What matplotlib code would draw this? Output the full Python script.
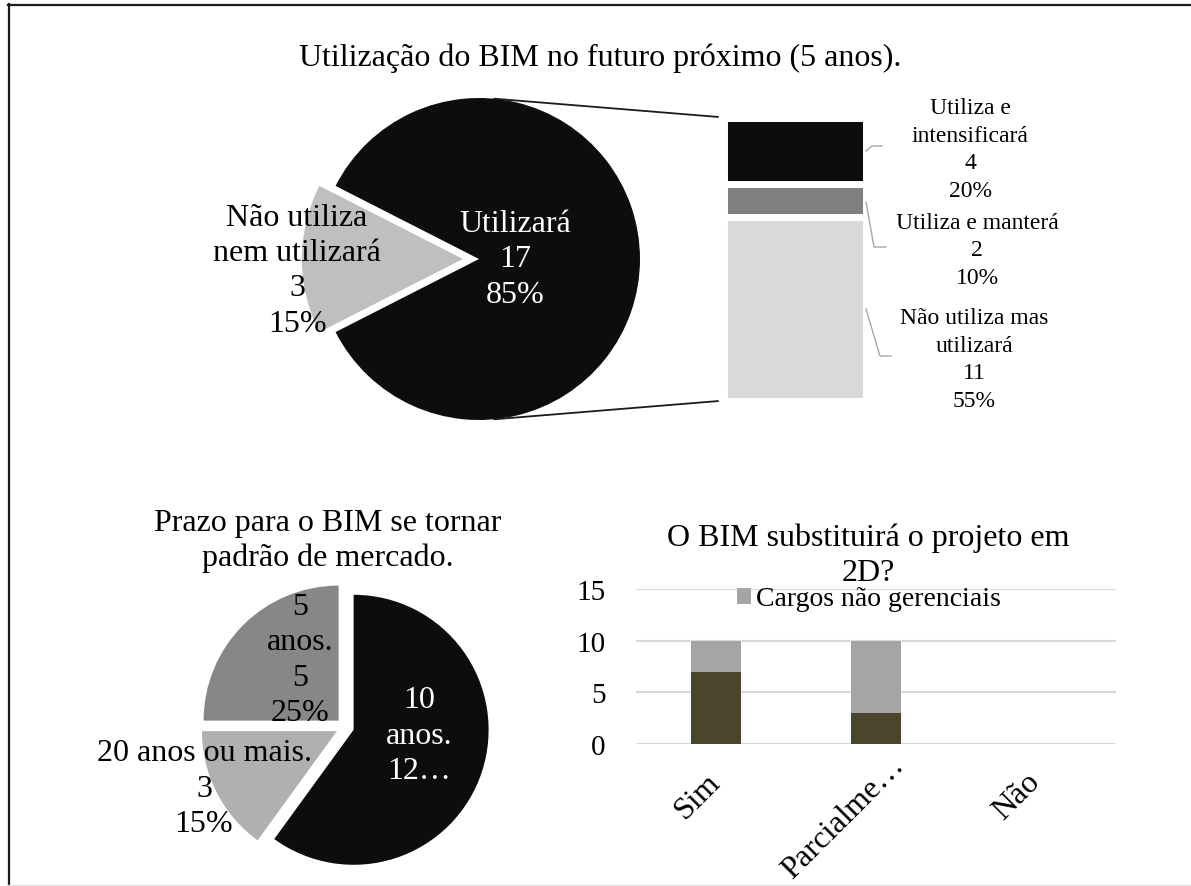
import matplotlib
matplotlib.use("Agg")
import matplotlib.pyplot as plt
from matplotlib.patches import ConnectionPatch
from matplotlib.lines import Line2D
import matplotlib.transforms as mtransforms
import numpy as np

plt.rcParams['font.family'] = ['Liberation Serif', 'DejaVu Serif']

W, H = 1191, 887

# ---------------- data ----------------
top_title = "Utilização do BIM no futuro próximo (5 anos)."
top_labels = ["Não utiliza\nnem utilizará", "Utilizará"]
top_values = [3, 17]
top_colors = ['#bfbfbf', '#0d0d0d']

sub_labels = ["Utiliza e\nintensificará", "Utiliza e manterá", "Não utiliza mas\nutilizará"]
sub_values = [4, 2, 11]
sub_colors = ['#0d0d0d', '#808080', '#d9d9d9']

prazo_title = "Prazo para o BIM se tornar\npadrão de mercado."
prazo_labels = ["10\nanos.", "20 anos ou mais.", "5\nanos."]
prazo_values = [12, 3, 5]
prazo_colors = ['#0d0d0d', '#b0b0b0', '#878787']

bar_title = "O BIM substituirá o projeto em\n2D?"
bar_categories = ["Sim", "Parcialme…", "Não"]
gerenciais = [7, 3, 0]
nao_gerenciais = [3, 7, 0]
bar_series_names = ["Cargos gerenciais", "Cargos não gerenciais"]
bar_colors = ['#4a452c', '#a5a5a5']

BIG = 23
MID = 21
SMALL = 17
LS = 1.28
LS_SMALL = 1.42

fig = plt.figure(figsize=(W / 100, H / 100), dpi=100)


def fx(x):
    return x / W


def fy(y):
    return 1 - y / H


def axes_px(left, top, right, bottom):
    return fig.add_axes([left / W, 1 - bottom / H, (right - left) / W, (bottom - top) / H])


# frame
fig.add_artist(Line2D([fx(8), 1], [fy(5.5), fy(5.5)], color='#1a1a1a', lw=1.6, transform=fig.transFigure))
fig.add_artist(Line2D([fx(8.5), fx(8.5)], [fy(5), 0], color='#1a1a1a', lw=1.6, transform=fig.transFigure))
fig.add_artist(Line2D([fx(8), 1], [fy(886), fy(886)], color='#e0e0e0', lw=1.0, transform=fig.transFigure))

# ---------------- top pie ----------------
cx, cy, r = 479, 260, 161
S = 1.3
ax1 = axes_px(cx - S * r, cy - S * r, cx + S * r, cy + S * r)
ax1.pie(top_values, colors=top_colors, startangle=153, explode=[0.1, 0], radius=1,
        wedgeprops=dict(linewidth=0))
ax1.set_xlim(-S, S)
ax1.set_ylim(-S, S)
ax1.set_aspect('equal')
ax1.axis('off')
tot = sum(top_values)
ax1.text(0.224, 0.0, f"{top_labels[1]}\n{top_values[1]}\n{round(top_values[1] / tot * 100)}%",
         color='white', fontsize=BIG, ha='center', va='center', multialignment='center', linespacing=LS)
ax1.text(-1.13, -0.07, f"{top_labels[0]}\n{top_values[0]}\n{round(top_values[0] / tot * 100)}%",
         color='black', fontsize=BIG, ha='center', va='center', multialignment='center', linespacing=LS)

fig.text(fx(600), fy(58), top_title, fontsize=BIG, ha='center', va='center')

# ---------------- bar of pie ----------------
axb = axes_px(724, 118.5, 866, 401.5)
bottom = 0
for v, c in zip(sub_values[::-1], sub_colors[::-1]):
    axb.bar(0, v, bottom=bottom, width=1, color=c, edgecolor='white', linewidth=5)
    bottom += v
axb.set_xlim(-0.5, 0.5)
axb.set_ylim(0, sum(sub_values))
axb.axis('off')

for ang, xyb in [(84.6, (-0.042, 1.002)), (-84.6, (-0.042, -0.002))]:
    a = np.deg2rad(ang)
    cp = ConnectionPatch(xyA=(np.cos(a), np.sin(a)), coordsA='data', axesA=ax1,
                         xyB=xyb, coordsB='axes fraction', axesB=axb,
                         color='#1a1a1a', lw=1.3)
    fig.add_artist(cp)

tot_all = sum(top_values)
sub_pos = [(970, 150), (977, 251), (974, 360)]
for lbl, v, (px, py) in zip(sub_labels, sub_values, sub_pos):
    fig.text(fx(px), fy(py), f"{lbl}\n{v}\n{round(v / tot_all * 100)}%", fontsize=SMALL,
             ha='center', va='center', multialignment='center', linespacing=LS_SMALL)

leaders = [[(866, 152), (872, 147), (882, 147)],
           [(866, 203), (874, 248), (886, 248)],
           [(866, 310), (880, 357), (891, 357)]]
for pts in leaders:
    xs = [fx(p[0]) for p in pts]
    ys = [fy(p[1]) for p in pts]
    fig.add_artist(Line2D(xs, ys, color='#a6a6a6', lw=1.0, transform=fig.transFigure))

# ---------------- bottom pie ----------------
cx2, cy2, r2 = 345, 728, 135
ax2 = axes_px(cx2 - S * r2, cy2 - S * r2, cx2 + S * r2, cy2 + S * r2)
ax2.pie(prazo_values, colors=prazo_colors, startangle=90, counterclock=False,
        explode=[0.067] * 3, radius=1, wedgeprops=dict(linewidth=0))
ax2.set_xlim(-S, S)
ax2.set_ylim(-S, S)
ax2.set_aspect('equal')
ax2.axis('off')
tot2 = sum(prazo_values)
ax2.text(0.548, -0.06, f"{prazo_labels[0]}\n{prazo_values[0]}…", color='white', fontsize=BIG,
         ha='center', va='center', multialignment='center', linespacing=LS)
ax2.text(-1.044, -0.452, f"{prazo_labels[1]}\n{prazo_values[1]}\n{round(prazo_values[1] / tot2 * 100)}%",
         color='black', fontsize=BIG, ha='center', va='center', multialignment='center', linespacing=LS)
ax2.text(-0.333, 0.5, f"{prazo_labels[2]}\n{prazo_values[2]}\n{round(prazo_values[2] / tot2 * 100)}%",
         color='black', fontsize=BIG, ha='center', va='center', multialignment='center', linespacing=LS)

fig.text(fx(328), fy(541), prazo_title, fontsize=BIG, ha='center', va='center', linespacing=LS)

# ---------------- stacked bar chart ----------------
ax3 = axes_px(636, 590, 1116, 745)
x = np.arange(len(bar_categories))
ax3.bar(x, gerenciais, width=0.31, color=bar_colors[0], label='_nolegend_', zorder=3)
ax3.bar(x, nao_gerenciais, width=0.31, bottom=gerenciais, color=bar_colors[1],
        label=bar_series_names[1], zorder=3)
ax3.set_xlim(-0.5, 2.5)
ax3.set_ylim(0, 15)
ax3.set_yticks([0, 5, 10, 15])
ax3.grid(axis='y', color='#d9d9d9', lw=1.5, zorder=0)
for s in ax3.spines.values():
    s.set_visible(False)
ax3.tick_params(axis='both', length=0, labelsize=MID)
ax3.tick_params(axis='y', pad=22)
ax3.set_xticks(x)
ax3.set_xticklabels(bar_categories, rotation=45, ha='right', va='center', rotation_mode='anchor',
                    fontsize=BIG)
ax3.tick_params(axis='x', pad=24)
# Excel placed the truncated middle label a little higher/right
lab = ax3.get_xticklabels()[1]
lab.set_transform(lab.get_transform() + mtransforms.ScaledTranslation(0.24, 0.17, fig.dpi_scale_trans))
ax3.legend(loc='center', bbox_to_anchor=(fx(869), fy(600)), bbox_transform=fig.transFigure,
           frameon=False, fontsize=20, handlelength=0.5, handleheight=0.5, handletextpad=0.2,
           borderpad=0, borderaxespad=0)

fig.text(fx(868), fy(556), bar_title, fontsize=BIG, ha='center', va='center', linespacing=LS)

fig.savefig('out.png', dpi=100)
